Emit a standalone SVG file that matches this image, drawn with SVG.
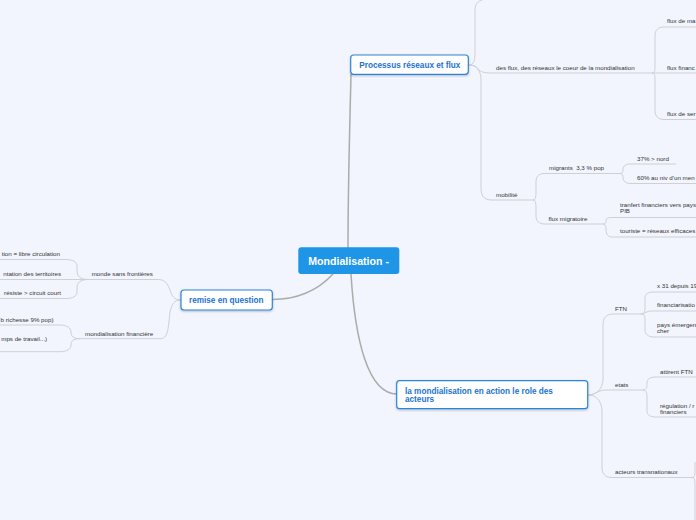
<svg xmlns="http://www.w3.org/2000/svg" width="696" height="520" viewBox="0 0 696 520">
<defs>
<filter id="sh" x="-10%" y="-20%" width="120%" height="150%">
<feDropShadow dx="0" dy="1" stdDeviation="0.8" flood-color="#000" flood-opacity="0.25"/>
</filter>
<style>
.bg{fill:#f2f5fd}
.main{fill:none;stroke:#ababab;stroke-width:1.5}
.sub{fill:none;stroke:#cfcfd4;stroke-width:1}
.box{fill:#ffffff;stroke:#2a86dc;stroke-width:1.2}
.ctr{fill:#1e95e6}
.t{font-family:"Liberation Sans",Arial,sans-serif;font-size:6.2px;fill:#333333;white-space:pre}
.b{font-family:"Liberation Sans",Arial,sans-serif;font-size:8.2px;font-weight:bold;fill:#1c72d2}
.c{font-family:"Liberation Sans",Arial,sans-serif;font-size:10.6px;font-weight:bold;fill:#ffffff}
</style>
</defs>
<rect class="bg" x="0" y="0" width="696" height="520"/>

<g id="connectors">
<path class="main" d="M348,248 C348,180 350,120 351,74"/>
<path class="main" d="M333,274 C320,288 300,299.5 272,299.5"/>
<path class="main" d="M351,274 C355,340 368,394 397,394"/>

<path class="sub" d="M469,65 C474,65 475,60 475,52 L475,10 C475,4 478,0 486,-1"/>
<path class="sub" d="M469,65 C474,65 476,66 478,69 C481,72 484,73 492,73 L652,73"/>
<path class="sub" d="M469,65 C476,65 481,70 481,80 L481,188 C481,196 484,200 492,200 L533,200"/>

<path class="sub" d="M652,73 C655,73 655,70 655,65 L655,36 C655,30 658,27 664,27 L696,27"/>
<path class="sub" d="M652,73 L696,73"/>
<path class="sub" d="M652,73 C655,73 655,76 655,81 L655,110 C655,116 658,119.5 664,119.5 L696,119.5"/>

<path class="sub" d="M533,200 C536,200 536,196 536,190 L536,182 C536,176 539,173.5 545,173.5 L620,173.5"/>
<path class="sub" d="M533,200 C536,200 536,204 536,210 L536,216 C536,221 539,224 545,224 L603,224"/>

<path class="sub" d="M620,173.5 C623,173.5 623,171 623,169 C623,166 626,164 630,164 L676,164"/>
<path class="sub" d="M620,173.5 C623,173.5 623,176 623,178 C623,181 626,183.5 630,183.5 L696,183.5"/>

<path class="sub" d="M603,224 C606,224 606,222 606,221 C606,218 608,217.5 612,217.5 L696,217.5"/>
<path class="sub" d="M603,224 C606,224 606,227 606,230 C606,234 608,237 612,237 L696,237"/>

<path class="sub" d="M588,395 C596,395 602,390 603,380 L603,325 C603,318 606,314 613,314 L641,314"/>
<path class="sub" d="M588,395 C595,395 598,390 606,390 L643,390"/>
<path class="sub" d="M588,395 C596,395 601,400 602,410 L602,467 C602,474 605,477.5 612,477.5 L692,477.5"/>

<path class="sub" d="M641,314 C645,314 645,311 645,306 L645,298 C645,294 648,292 654,292 L696,292"/>
<path class="sub" d="M641,314 C645,314 646,311 652,311 L696,311"/>
<path class="sub" d="M641,314 C645,314 645,317 645,322 L645,330 C645,334 648,337 654,337 L696,337"/>

<path class="sub" d="M643,390 C647,390 647,386 647,383 C647,379 650,377 656,377 L696,377"/>
<path class="sub" d="M643,390 C647,390 647,394 647,400 L647,411 C647,415 650,417 656,417 L696,417"/>

<path class="sub" d="M692,477.5 C695,477.5 695,474 695,470 L695,462"/>
<path class="sub" d="M692,477.5 C695,477.5 695,481 695,486 L695,520"/>

<path class="sub" d="M181,300 C174,300 172,296 170,290 C167,283 165,279.5 158,279.5 L88,279.5"/>
<path class="sub" d="M181,300 C174,300 172,304 170,312 C168,330 168,338.7 160,338.7 L80,338.7"/>

<path class="sub" d="M88,279.5 L0,279.5"/>
<path class="sub" d="M88,279.5 C80,279.5 77,276 77,270 L77,266 C77,262 73,259.5 66,259.5 L0,259.5"/>
<path class="sub" d="M88,279.5 C80,279.5 77,283 77,288 L77,292 C77,296 73,298.5 66,298.5 L0,298.5"/>

<path class="sub" d="M80,338.7 C73,338.7 71,336 71,332 C71,328 67,325 60,325 L0,325"/>
<path class="sub" d="M80,338.7 C73,338.7 71,341 71,345 C71,349 67,351.7 60,351.7 L0,351.7"/>
</g>

<g id="center">
<rect class="ctr" x="298.3" y="247.3" width="101" height="26.7" rx="3"/>
<text class="c" x="308.3" y="265">Mondialisation -</text>
</g>

<g id="processus">
<rect class="box" x="350.7" y="55" width="117.6" height="19.3" rx="3" filter="url(#sh)"/>
<text class="b" x="359.3" y="68">Processus réseaux et flux</text>
</g>

<g id="remise">
<rect class="box" x="181" y="290" width="91.3" height="20" rx="3" filter="url(#sh)"/>
<text class="b" x="189" y="303">remise en question</text>
</g>

<g id="acteurs-node">
<rect class="box" x="396.7" y="380.7" width="191" height="28" rx="3" filter="url(#sh)"/>
<text class="b" x="405" y="393.5">la mondialisation en action le role des</text>
<text class="b" x="405" y="402.2">acteurs</text>
</g>

<g id="desflux"><text class="t" x="496" y="70">des flux, des réseaux le coeur de la mondialisation</text></g>
<g id="fluxma"><text class="t" x="667" y="22.5">flux de ma</text></g>
<g id="fluxfin"><text class="t" x="667" y="70">flux financ</text></g>
<g id="fluxser"><text class="t" x="667" y="116">flux de ser</text></g>

<g id="mobilite"><text class="t" x="496" y="197">mobilité</text></g>
<g id="migrants"><text class="t" x="549" y="170">migrants  3,3 % pop</text></g>
<g id="nord"><text class="t" x="637" y="160.5">37% &gt; nord</text></g>
<g id="men"><text class="t" x="637" y="180">60% au niv d'un men</text></g>
<g id="fluxmig"><text class="t" x="548.5" y="220.5">flux migratoire</text></g>
<g id="tranfert"><text class="t" x="620" y="207">tranfert financiers vers pays</text><text class="t" x="620" y="213">PIB</text></g>
<g id="touriste"><text class="t" x="620" y="233">touriste = réseaux efficaces</text></g>

<g id="ftn"><text class="t" x="615" y="310.5">FTN</text></g>
<g id="x31"><text class="t" x="657" y="288">x 31 depuis 19</text></g>
<g id="financ"><text class="t" x="657" y="307">financiarisatio</text></g>
<g id="pays"><text class="t" x="657" y="327">pays émergen</text><text class="t" x="657" y="333">cher</text></g>
<g id="etats"><text class="t" x="615" y="387">etats</text></g>
<g id="attirent"><text class="t" x="660" y="373.5">attirent FTN</text></g>
<g id="regulation"><text class="t" x="660" y="407.5">régulation / r</text><text class="t" x="660" y="413.5">financiers</text></g>
<g id="transnat"><text class="t" x="615" y="473.5">acteurs transnationaux</text></g>

<g id="monde"><text class="t" x="91.7" y="276">monde sans frontières</text></g>
<g id="monfin"><text class="t" x="85" y="335.5">mondialisation financière</text></g>
<g id="libre"><text class="t" x="60" y="256" text-anchor="end">tion = libre circulation</text></g>
<g id="territoires"><text class="t" x="61" y="276" text-anchor="end">ntation des territoires</text></g>
<g id="resiste"><text class="t" x="61" y="295" text-anchor="end">résiste &gt; circuit court</text></g>
<g id="richesse"><text class="t" x="53.5" y="322" text-anchor="end">b richesse 9% pop)</text></g>
<g id="travail"><text class="t" x="47" y="341" text-anchor="end">mps de travail...)</text></g>
</svg>
